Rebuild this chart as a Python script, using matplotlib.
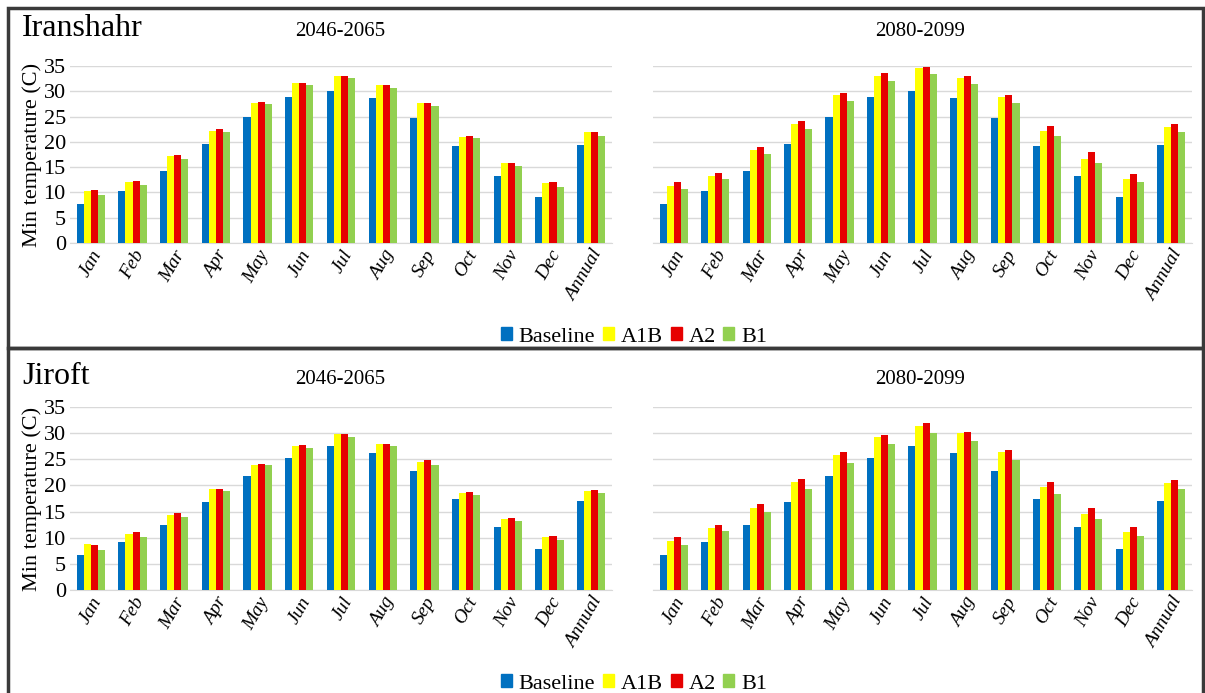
import numpy as np
import matplotlib.pyplot as plt
from matplotlib.patches import Rectangle, Patch

plt.rcParams['font.family'] = 'serif'
plt.rcParams['font.serif'] = ['Liberation Serif', 'DejaVu Serif']

months = ['Jan', 'Feb', 'Mar', 'Apr', 'May', 'Jun', 'Jul', 'Aug', 'Sep', 'Oct', 'Nov', 'Dec', 'Annual']
series = ['Baseline', 'A1B', 'A2', 'B1']
colors = ['#0070C0', '#FFFF00', '#E60000', '#92D050']

# Iranshahr
ira_base = [7.8, 10.2, 14.3, 19.5, 24.9, 28.9, 30.1, 28.6, 24.7, 19.2, 13.3, 9.1, 19.3]
ira_a1b_mid = [10.2, 12.0, 17.2, 22.2, 27.6, 31.6, 33.0, 31.2, 27.6, 20.9, 15.8, 11.8, 21.9]
ira_a2_mid = [10.5, 12.3, 17.4, 22.5, 27.8, 31.6, 33.0, 31.2, 27.7, 21.2, 15.9, 12.0, 22.0]
ira_b1_mid = [9.5, 11.4, 16.6, 21.9, 27.4, 31.3, 32.6, 30.6, 27.0, 20.7, 15.3, 11.1, 21.2]
ira_a1b_end = [11.3, 13.2, 18.3, 23.6, 29.3, 33.0, 34.7, 32.6, 28.9, 22.2, 16.6, 12.7, 22.9]
ira_a2_end = [12.0, 13.8, 19.0, 24.2, 29.7, 33.6, 34.9, 33.0, 29.3, 23.2, 18.0, 13.7, 23.6]
ira_b1_end = [10.7, 12.6, 17.6, 22.5, 28.0, 32.0, 33.5, 31.5, 27.7, 21.1, 15.8, 12.0, 22.0]

# Jiroft
jir_base = [6.6, 9.1, 12.4, 16.9, 21.8, 25.3, 27.5, 26.2, 22.8, 17.4, 12.0, 7.9, 17.1]
jir_a1b_mid = [8.8, 10.8, 14.4, 19.3, 23.9, 27.6, 29.8, 27.9, 24.4, 18.6, 13.6, 10.1, 19.0]
jir_a2_mid = [8.7, 11.1, 14.8, 19.4, 24.1, 27.7, 29.8, 28.0, 24.8, 18.7, 13.7, 10.3, 19.2]
jir_b1_mid = [7.7, 10.2, 14.0, 19.0, 23.9, 27.2, 29.3, 27.5, 24.0, 18.1, 13.2, 9.5, 18.6]
jir_a1b_end = [9.4, 11.9, 15.6, 20.7, 25.9, 29.2, 31.4, 30.0, 26.3, 19.7, 14.6, 11.1, 20.4]
jir_a2_end = [10.1, 12.5, 16.4, 21.3, 26.3, 29.7, 31.9, 30.2, 26.7, 20.6, 15.7, 12.0, 21.1]
jir_b1_end = [8.7, 11.3, 15.0, 19.4, 24.3, 27.9, 30.1, 28.5, 24.8, 18.4, 13.6, 10.3, 19.4]

W, H = 1205, 693
fig = plt.figure(figsize=(W / 100, H / 100), dpi=100)


def px_axes(x0, x1, ytop, ybot):
    return fig.add_axes([x0 / W, 1 - ybot / H, (x1 - x0) / W, (ybot - ytop) / H])


def draw(ax, data, show_y):
    x = np.arange(len(months))
    bw = 0.17
    for i, vals in enumerate(data):
        ax.bar(x + (i - 1.5) * bw, vals, bw, color=colors[i], zorder=3)
    ax.set_xlim(-0.5, len(months) - 0.5)
    ax.set_ylim(0, 35)
    ax.set_yticks(range(0, 36, 5))
    ax.grid(axis='y', color='#d9d9d9', lw=1, zorder=0)
    for s in ['top', 'right', 'left']:
        ax.spines[s].set_visible(False)
    ax.spines['bottom'].set_color('#d9d9d9')
    ax.tick_params(length=0, labelsize=16, pad=3)
    ax.set_xticks(x)
    ax.set_xticklabels(months, rotation=60, ha='right', rotation_mode='anchor',
                       fontstyle='italic', fontsize=14)
    if show_y:
        ax.set_ylabel('Min temperature (C)', fontsize=16, labelpad=1)
    else:
        ax.set_yticklabels([])


panels = [
    (66, 243, 'Iranshahr', [ira_base, ira_a1b_mid, ira_a2_mid, ira_b1_mid],
     [ira_base, ira_a1b_end, ira_a2_end, ira_b1_end]),
    (407, 590, 'Jiroft', [jir_base, jir_a1b_mid, jir_a2_mid, jir_b1_mid],
     [jir_base, jir_a1b_end, jir_a2_end, jir_b1_end]),
]

for k, (ytop, ybot, city, mid, end) in enumerate(panels):
    ax1 = px_axes(70, 612, ytop, ybot)
    draw(ax1, mid, True)
    ax2 = px_axes(653, 1192, ytop, ybot)
    draw(ax2, end, False)
    off = 0 if k == 0 else 347
    fig.text(22 / W, 1 - (29 + off) / H, city, fontsize=23, va='center', ha='left')
    fig.text(340 / W, 1 - (32 + off) / H, '2046-2065', fontsize=15, va='center', ha='center')
    fig.text(920 / W, 1 - (32 + off) / H, '2080-2099', fontsize=15, va='center', ha='center')
    handles = [Patch(color=c, label=s) for c, s in zip(colors, series)]
    fig.legend(handles=handles, loc='center', bbox_to_anchor=(634 / W, 1 - (337 + off) / H),
               ncol=4, frameon=False, fontsize=16, handlelength=0.5, handleheight=0.5,
               handletextpad=0.3, columnspacing=0.35, borderpad=0)

# panel borders
fig.patches.append(Rectangle((8 / W, 1 - 348 / H), 1195 / W, 340 / H, transform=fig.transFigure,
                             fill=False, ec='#3a3a3a', lw=2.5))
fig.patches.append(Rectangle((8 / W, -0.01), 1195 / W, 1 - 348 / H + 0.01, transform=fig.transFigure,
                             fill=False, ec='#3a3a3a', lw=2.5))

fig.savefig('out.png', dpi=100)
